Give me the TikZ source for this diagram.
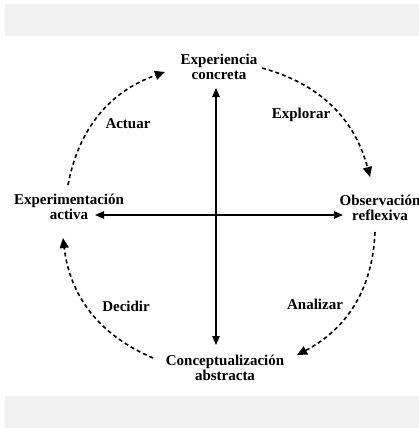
\documentclass[tikz,border=0pt]{standalone}
\usepackage{fontspec}
\setmainfont{Liberation Serif}
\usetikzlibrary{arrows.meta,calc}
\definecolor{band}{HTML}{F1F1F1}
\tikzset{
  lbl/.style={font=\bfseries\fontsize{15}{15}\selectfont, align=center, inner sep=0pt},
  solidarrow/.style={line width=1.3pt, {Triangle[length=9pt,width=7.5pt]}-{Triangle[length=9pt,width=7.5pt]}},
  cyclearrow/.style={line width=1.6pt, dash pattern=on 4pt off 3pt, -{Triangle[length=10pt,width=9pt]}}
}
\begin{document}
\begin{tikzpicture}[x=1pt,y=-1pt]
\useasboundingbox (0,0) rectangle (419,428);
\fill[white] (0,0) rectangle (419,428);
\fill[band] (5,4) rectangle (419,36);
\fill[band] (5,396) rectangle (419,428);

\node[lbl] (exp) at (219,67) {Experiencia\\concreta};
\node[lbl] (obs) at (380,208) {Observación\\reflexiva};
\node[lbl] (act) at (69,207) {Experimentación\\activa};
\node[lbl] (con) at (225,368) {Conceptualización\\abstracta};

\node[lbl] (actuar) at (128,124) {Actuar};
\node[lbl] (explorar) at (301,115) {Explorar};
\node[lbl] (analizar) at (315,304) {Analizar};
\node[lbl] (decidir) at (126,306) {Decidir};

\draw[solidarrow] ($(exp)+(-3,21)$) -- ($(con)+(-9,-23)$);
\draw[solidarrow] ($(act)+(26,8)$) -- ($(obs)+(-37,7)$);

\draw[cyclearrow] ($(act)+(-1,-22)$) to[bend left=30] ($(exp)+(-54,5)$);
\draw[cyclearrow] ($(exp)+(43,1)$) to[bend left=30] ($(obs)+(-10,-31)$);
\draw[cyclearrow] ($(obs)+(-5,24)$) to[bend left=30] ($(con)+(72,-13)$);
\draw[cyclearrow] ($(con)+(-72,-10)$) to[bend left=30] ($(act)+(-6,31)$);
\end{tikzpicture}
\end{document}
